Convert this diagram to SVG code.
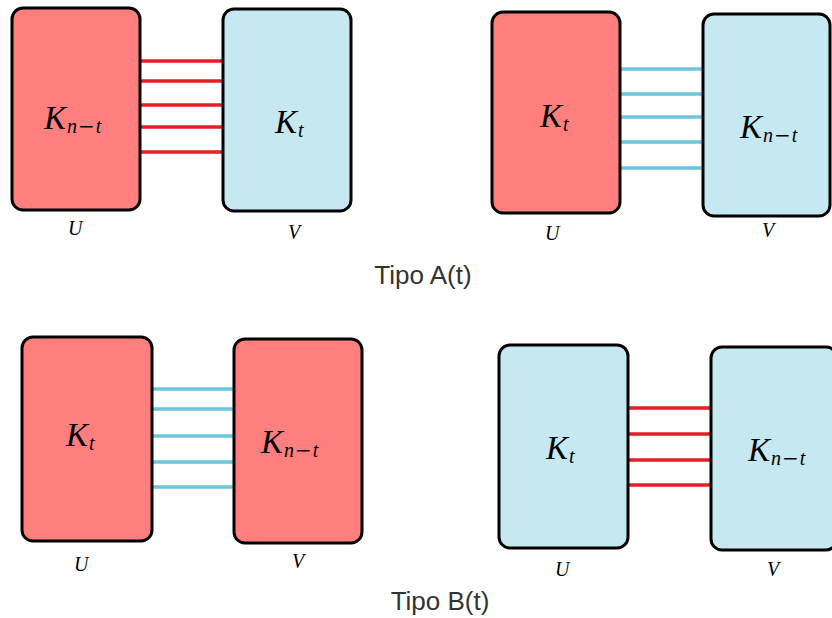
<svg xmlns="http://www.w3.org/2000/svg" width="832" height="618" viewBox="0 0 832 618">
  <style>
    .box { stroke: #000; stroke-width: 3; }
    .red { fill: #ff7f7f; }
    .blue { fill: #c6e9f1; }
    .er { stroke: #e61e28; stroke-width: 3.5; }
    .eb { stroke: #6cc6de; stroke-width: 3.5; }
    .m { font-family: "Liberation Serif", "DejaVu Serif", serif; font-style: italic; fill: #000; }
    .big { font-size: 33px; }
    .sub { font-size: 20px; }
    .minus { font-family: "DejaVu Serif", serif; font-style: normal; font-size: 20px; }
    .lbl { font-size: 20px; }
    .title { font-family: "Liberation Sans", Arial, sans-serif; font-size: 26px; fill: #333; text-anchor: middle; }
  </style>

  <!-- Connectors -->
  <g id="connectors">
    <g id="edges-a1">
      <line class="er" x1="140" y1="61" x2="223" y2="61"/>
      <line class="er" x1="140" y1="81" x2="224" y2="81"/>
      <line class="er" x1="140" y1="105" x2="223" y2="105"/>
      <line class="er" x1="140" y1="127" x2="223" y2="127"/>
      <line class="er" x1="140" y1="152" x2="223" y2="152"/>
    </g>
    <g id="edges-a2">
      <line class="eb" x1="620" y1="69" x2="703" y2="69"/>
      <line class="eb" x1="620" y1="94" x2="703" y2="94"/>
      <line class="eb" x1="620" y1="117" x2="706" y2="117"/>
      <line class="eb" x1="620" y1="142" x2="703" y2="142"/>
      <line class="eb" x1="620" y1="168" x2="703" y2="168"/>
    </g>
    <g id="edges-b1">
      <line class="eb" x1="152" y1="389" x2="233" y2="389"/>
      <line class="eb" x1="152" y1="409" x2="236" y2="409"/>
      <line class="eb" x1="152" y1="436" x2="234" y2="436"/>
      <line class="eb" x1="152" y1="462" x2="234" y2="462"/>
      <line class="eb" x1="152" y1="487" x2="235" y2="487"/>
    </g>
    <g id="edges-b2">
      <line class="er" x1="628" y1="408" x2="712" y2="408"/>
      <line class="er" x1="628" y1="434" x2="712" y2="434"/>
      <line class="er" x1="628" y1="460" x2="712" y2="460"/>
      <line class="er" x1="628" y1="485" x2="715" y2="485"/>
    </g>
  </g>

  <!-- Tipo A(t), first pair -->
  <g id="a1-u">
    <rect class="box red" x="12" y="8" width="128" height="202" rx="11"/>
    <text class="m big" x="44" y="129">K<tspan class="sub" dx="1" dy="4">n</tspan><tspan class="minus" dx="1">−</tspan><tspan class="sub" dx="1">t</tspan></text>
    <text class="m lbl" x="68" y="235">U</text>
  </g>
  <g id="a1-v">
    <rect class="box blue" x="223" y="9" width="128" height="202" rx="11"/>
    <text class="m big" x="275" y="133">K<tspan class="sub" dx="1" dy="4">t</tspan></text>
    <text class="m lbl" x="288" y="239">V</text>
  </g>

  <!-- Tipo A(t), second pair -->
  <g id="a2-u">
    <rect class="box red" x="492" y="12" width="128" height="201" rx="11"/>
    <text class="m big" x="540" y="127">K<tspan class="sub" dx="1" dy="4">t</tspan></text>
    <text class="m lbl" x="545" y="240">U</text>
  </g>
  <g id="a2-v">
    <rect class="box blue" x="703" y="14" width="127" height="202" rx="11"/>
    <text class="m big" x="740" y="138">K<tspan class="sub" dx="1" dy="4">n</tspan><tspan class="minus" dx="1">−</tspan><tspan class="sub" dx="1">t</tspan></text>
    <text class="m lbl" x="762" y="237">V</text>
  </g>

  <text id="title-a" class="title" x="423" y="284">Tipo A(t)</text>

  <!-- Tipo B(t), first pair -->
  <g id="b1-u">
    <rect class="box red" x="22" y="337" width="130" height="204" rx="11"/>
    <text class="m big" x="66" y="446">K<tspan class="sub" dx="1" dy="4">t</tspan></text>
    <text class="m lbl" x="74" y="571">U</text>
  </g>
  <g id="b1-v">
    <rect class="box red" x="234" y="339" width="128" height="204" rx="11"/>
    <text class="m big" x="261" y="453">K<tspan class="sub" dx="1" dy="4">n</tspan><tspan class="minus" dx="1">−</tspan><tspan class="sub" dx="1">t</tspan></text>
    <text class="m lbl" x="292" y="568">V</text>
  </g>

  <!-- Tipo B(t), second pair -->
  <g id="b2-u">
    <rect class="box blue" x="499" y="345" width="129" height="203" rx="11"/>
    <text class="m big" x="546" y="459">K<tspan class="sub" dx="1" dy="4">t</tspan></text>
    <text class="m lbl" x="555" y="576">U</text>
  </g>
  <g id="b2-v">
    <rect class="box blue" x="711" y="347" width="126" height="203" rx="11"/>
    <text class="m big" x="748" y="461">K<tspan class="sub" dx="1" dy="4">n</tspan><tspan class="minus" dx="1">−</tspan><tspan class="sub" dx="1">t</tspan></text>
    <text class="m lbl" x="767" y="576">V</text>
  </g>

  <text id="title-b" class="title" x="440" y="610">Tipo B(t)</text>
</svg>
